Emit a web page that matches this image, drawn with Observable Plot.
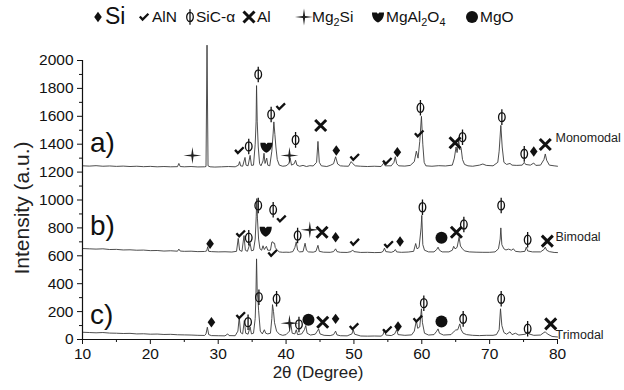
<!DOCTYPE html>
<html>
<head>
<meta charset="utf-8">
<script src="https://cdn.jsdelivr.net/npm/d3@7"></script>
<script src="https://cdn.jsdelivr.net/npm/@observablehq/plot@0.6"></script>
<style>
  body { margin: 0; background: #fff; font-family: "Liberation Sans", Arial, sans-serif; }
  #wrap { position: relative; width: 624px; height: 390px; }
  #legend { position: relative; width: 624px; height: 40px; color: #111; }
  #legend span { position: absolute; white-space: nowrap; }
  #legend svg { position: absolute; overflow: visible; }
  #ylabel { position: absolute; left: 22px; top: 208px; transform: translate(-50%, -50%) rotate(-90deg);
            white-space: nowrap; font-size: 21px; color: #222; }
  sub { font-size: 70%; vertical-align: -0.35em; line-height: 0; }
</style>
</head>
<body>
<div id="wrap">
  <div id="legend"></div>
  <div id="chart"></div>
  <div id="ylabel">Intensity (a.u.)</div>
</div>
<script>
// ---------- data: XRD traces [2θ (deg), intensity (a.u.)] ----------
const traceA = [[10,1245],[11,1243],[12,1246],[13,1242],[14,1244],[15,1241],[16,1243],[17,1240],[18,1242],[19,1239],[20,1241],[21,1238],[22,1240],[23,1238],[24,1239],[24.2,1262],[24.4,1240],[25,1238],[26,1240],[27,1237],[28,1238],[28.2,1240],[28.35,2110],[28.5,1245],[28.8,1238],[29.5,1236],[30.5,1238],[31.5,1240],[32.5,1238],[33.0,1250],[33.15,1275],[33.3,1245],[33.6,1242],[33.95,1305],[34.1,1250],[34.4,1245],[34.7,1320],[34.9,1248],[35.2,1250],[35.45,1400],[35.58,1560],[35.65,1820],[35.75,1560],[35.9,1380],[36.1,1260],[36.3,1245],[36.6,1280],[36.75,1335],[36.9,1262],[37.15,1300],[37.3,1250],[37.6,1245],[37.9,1350],[38.1,1480],[38.2,1560],[38.35,1470],[38.5,1380],[38.7,1290],[39.0,1250],[39.5,1242],[40.0,1245],[40.4,1260],[40.6,1300],[40.8,1250],[41.2,1260],[41.4,1285],[41.6,1250],[42,1242],[42.5,1248],[43,1240],[43.5,1246],[44.0,1244],[44.5,1270],[44.7,1420],[44.9,1270],[45.2,1245],[46,1240],[46.5,1248],[47.0,1260],[47.3,1310],[47.6,1258],[48,1245],[48.5,1243],[49.2,1242],[49.6,1275],[49.8,1262],[50.2,1245],[51,1242],[52,1240],[53,1242],[54,1240],[54.4,1265],[54.6,1245],[55.5,1245],[55.9,1270],[56.1,1310],[56.3,1260],[56.6,1245],[57.5,1243],[58.3,1248],[58.9,1275],[59.2,1350],[59.45,1300],[59.7,1420],[59.95,1600],[60.15,1400],[60.35,1270],[60.6,1245],[61.5,1242],[62.5,1246],[63.5,1244],[64.5,1250],[64.8,1300],[65.05,1380],[65.2,1340],[65.45,1425],[65.6,1360],[65.8,1370],[66.0,1290],[66.3,1255],[66.8,1245],[67.5,1242],[68.5,1250],[69,1258],[69.5,1248],[70.5,1245],[71.2,1270],[71.4,1350],[71.65,1535],[71.85,1380],[72.1,1270],[72.5,1255],[73.0,1262],[73.3,1250],[74,1248],[74.8,1250],[75.1,1270],[75.3,1255],[76,1250],[76.5,1265],[76.8,1248],[77.5,1250],[78.0,1290],[78.2,1330],[78.4,1285],[78.8,1250],[79.5,1245],[80,1242]];
const traceB = [[10,652],[11,650],[12,648],[13,650],[14,645],[15,646],[16,642],[17,643],[18,640],[19,641],[20,637],[21,638],[22,634],[23,636],[24,633],[24.2,648],[24.4,634],[25,632],[26,633],[27,630],[28,631],[28.3,635],[28.45,665],[28.6,632],[29,630],[30,628],[31,629],[32,627],[32.7,632],[32.95,725],[33.15,640],[33.5,632],[33.8,745],[34.0,640],[34.3,632],[34.7,690],[34.9,636],[35.2,640],[35.45,720],[35.6,880],[35.68,1010],[35.78,870],[35.95,720],[36.15,650],[36.4,640],[36.6,672],[36.8,645],[37.1,668],[37.3,640],[37.7,640],[37.9,698],[38.05,700],[38.15,690],[38.3,690],[38.4,660],[38.7,640],[39.0,628],[39.5,625],[40,626],[40.5,625],[41.0,630],[41.3,660],[41.5,700],[41.7,640],[42,628],[42.5,630],[42.8,690],[43.0,640],[43.3,628],[44,626],[44.4,632],[44.7,675],[44.9,632],[45.5,626],[46.5,625],[47.0,630],[47.3,650],[47.5,630],[48,625],[49,624],[49.6,630],[49.8,642],[50.0,630],[51,624],[52,625],[53,623],[54,624],[54.3,632],[54.5,655],[54.7,630],[55.5,625],[55.9,632],[56.1,645],[56.3,628],[57,625],[58,627],[58.8,632],[59.1,688],[59.3,650],[59.6,660],[59.9,800],[60.0,890],[60.15,680],[60.4,640],[61,628],[61.8,628],[62.2,645],[62.4,662],[62.6,640],[63,628],[64,628],[64.5,640],[64.7,668],[64.9,650],[65.2,660],[65.5,733],[65.7,670],[66.0,650],[66.3,635],[67,628],[68,626],[69,625],[70,625],[70.8,628],[71.3,650],[71.55,720],[71.65,800],[71.8,680],[72.1,650],[72.4,642],[72.8,648],[73.2,640],[73.5,650],[73.8,632],[74.5,628],[75.2,632],[75.4,662],[75.6,635],[76.3,628],[77.5,628],[78.0,645],[78.2,662],[78.4,640],[78.8,630],[79.5,624],[80,623]];
const traceC = [[10,52],[11,50],[12,48],[13,50],[14,46],[15,45],[16,43],[17,44],[18,40],[19,41],[20,38],[21,39],[22,36],[23,37],[24,34],[25,33],[26,32],[27,30],[28,29],[28.2,40],[28.4,88],[28.6,35],[29,28],[30,27],[31,26],[31.4,40],[31.6,28],[32.5,27],[32.9,60],[33.1,160],[33.3,50],[33.6,40],[33.85,136],[34.05,45],[34.4,38],[34.7,90],[34.9,40],[35.2,45],[35.45,150],[35.55,300],[35.65,578],[35.75,340],[35.85,290],[35.95,210],[36.2,60],[36.5,40],[36.8,70],[37.0,45],[37.3,40],[37.7,45],[37.9,150],[38.0,250],[38.15,200],[38.3,120],[38.6,60],[39,38],[39.5,30],[40.0,35],[40.5,60],[40.7,112],[40.9,45],[41.3,40],[41.5,70],[41.7,35],[42.3,40],[42.7,70],[42.9,100],[43.1,45],[43.6,32],[44.3,38],[44.6,60],[44.8,76],[45.0,40],[45.6,30],[46.5,28],[47.0,35],[47.3,60],[47.5,33],[48,27],[49,26],[49.7,40],[49.9,69],[50.1,38],[51,25],[52,24],[53,25],[54,24],[54.3,35],[54.5,70],[54.7,32],[55.5,28],[56.0,40],[56.3,70],[56.5,35],[57.5,30],[58.5,33],[58.9,60],[59.2,136],[59.4,80],[59.7,90],[59.95,220],[60.1,120],[60.4,45],[61,32],[61.8,35],[62.2,60],[62.4,76],[62.6,45],[63.2,32],[64.3,35],[64.8,60],[65.0,68],[65.3,70],[65.6,112],[65.8,70],[66.1,45],[66.6,35],[67.5,30],[68.5,28],[69.5,30],[70.5,30],[71.0,35],[71.4,70],[71.6,220],[71.8,100],[72.1,50],[72.5,38],[73.0,55],[73.3,35],[73.8,45],[74.3,32],[75.3,38],[75.6,60],[75.8,40],[76.5,30],[77.5,32],[78.0,50],[78.2,55],[78.5,40],[79.2,22],[80,18]];

// ---------- phase markers [2θ, intensity] ----------
const siMarks     = [[47.4,1355],[56.4,1343],[76.5,1348],[28.8,686],[47.3,733],[56.8,702],[29.0,124],[47.3,148],[56.5,93]];
const alnMarks    = [[33.1,1355],[39.2,1670],[50.1,1307],[54.9,1278],[59.6,1475],[33.3,758],[39.3,865],[38.0,619],[50.1,698],[55.1,681],[33.3,172],[50.0,93],[54.9,70],[59.4,148]];
const sicMarks    = [[34.5,1384],[35.9,1900],[37.8,1613],[41.4,1431],[59.8,1661],[66.0,1450],[71.8,1594],[75.1,1331],[34.5,729],[35.9,961],[38.1,930],[41.7,745],[60.1,948],[66.2,824],[71.7,961],[75.6,715],[34.4,124],[36.0,303],[38.6,292],[41.9,108],[60.3,260],[66.1,148],[71.7,292],[75.6,77]];
const alMarks     = [[45.1,1534],[64.9,1410],[78.2,1398],[45.3,769],[65.1,769],[78.5,705],[45.4,124],[79.0,112]];
const mg2siMarks  = [[26.2,1319],[40.5,1319],[43.5,786],[40.5,117]];
const spinelMarks = [[37.1,1378],[37.0,776]];
const mgoMarks    = [[62.9,729],[43.3,141],[62.9,129]];

const sampleTags  = ["a)", "b)", "c)"];
const sampleNames = ["Monomodal", "Bimodal", "Trimodal"];
const xTicks = [10, 20, 30, 40, 50, 60, 70, 80];
const yTicks = [0, 200, 400, 600, 800, 1000, 1200, 1400, 1600, 1800, 2000];

// ---------- custom symbols ----------
const K = 0.5523;
function ellipse(c, rx, ry) {
  c.moveTo(rx, 0);
  c.bezierCurveTo(rx, ry*K, rx*K, ry, 0, ry);
  c.bezierCurveTo(-rx*K, ry, -rx, ry*K, -rx, 0);
  c.bezierCurveTo(-rx, -ry*K, -rx*K, -ry, 0, -ry);
  c.bezierCurveTo(rx*K, -ry, rx, -ry*K, rx, 0);
  c.closePath();
}
const symDiamond = {draw(c){ c.moveTo(0,-5.2); c.lineTo(3.8,0); c.lineTo(0,5.2); c.lineTo(-3.8,0); c.closePath(); }};
const symCheck   = {draw(c){ c.moveTo(-4.2,-0.6); c.lineTo(-1.4,2.6); c.lineTo(4.4,-3.2); }};
const symPhi     = {draw(c){ ellipse(c, 3.3, 4.6); c.moveTo(0,-7.8); c.lineTo(0,7.8); }};
const symTimes   = {draw(c){ c.moveTo(-5.5,-5.5); c.lineTo(5.5,5.5); c.moveTo(-5.5,5.5); c.lineTo(5.5,-5.5); }};
const symStar    = {draw(c){ const R=9, V=8.5, w=1.1; c.moveTo(0,-V); c.lineTo(w,-w); c.lineTo(R,0); c.lineTo(w,w); c.lineTo(0,V); c.lineTo(-w,w); c.lineTo(-R,0); c.lineTo(-w,-w); c.closePath(); }};
const symShield  = {draw(c){ c.moveTo(-6,-4.5); c.lineTo(-1.2,-4.5); c.lineTo(0,-3); c.lineTo(1.2,-4.5); c.lineTo(6,-4.5); c.bezierCurveTo(6.2,1,3,4.5,0,5.5); c.bezierCurveTo(-3,4.5,-6.2,1,-6,-4.5); c.closePath(); }};
const symDot     = {draw(c){ c.moveTo(6,0); c.arc(0,0,6,0,2*Math.PI); c.closePath(); }};

const phases = [
  {sym: symDiamond, label: "Si",      fill: "#111", stroke: "none", sw: 0},
  {sym: symCheck,   label: "AlN",     fill: "none", stroke: "#111", sw: 2.3},
  {sym: symPhi,     label: "SiC-α",   fill: "none", stroke: "#111", sw: 1.3},
  {sym: symTimes,   label: "Al",      fill: "none", stroke: "#111", sw: 3},
  {sym: symStar,    label: "Mg<sub>2</sub>Si", fill: "#222", stroke: "none", sw: 0},
  {sym: symShield,  label: "MgAl<sub>2</sub>O<sub>4</sub>", fill: "#111", stroke: "none", sw: 0},
  {sym: symDot,     label: "MgO",     fill: "#111", stroke: "none", sw: 0}
];
const markSets = [siMarks, alnMarks, sicMarks, alMarks, mg2siMarks, spinelMarks, mgoMarks];

// ---------- legend (HTML) ----------
const legendLayout = [
  {sx: 98,  tx: 105, fs: 23},
  {sx: 144, tx: 152, fs: 15.5},
  {sx: 190, tx: 196, fs: 15.5},
  {sx: 249, tx: 257, fs: 15.5},
  {sx: 304, tx: 312, fs: 15.5},
  {sx: 378, tx: 386, fs: 15.5},
  {sx: 472, tx: 480, fs: 15.5}
];
const legend = document.getElementById("legend");
phases.forEach((p, i) => {
  const L = legendLayout[i];
  const path = d3.symbol().type(p.sym)();
  const svg = d3.create("svg").attr("width", 1).attr("height", 1)
    .style("left", L.sx + "px").style("top", "17px");
  svg.append("path").attr("d", path).attr("fill", p.fill).attr("stroke", p.stroke)
    .attr("stroke-width", p.sw);
  legend.appendChild(svg.node());
  const s = document.createElement("span");
  s.innerHTML = p.label;
  s.style.left = L.tx + "px";
  s.style.fontSize = L.fs + "px";
  s.style.top = (L.fs > 18 ? 3 : 8) + "px";
  legend.appendChild(s);
});

// ---------- chart ----------
const rows = [];
[traceA, traceB, traceC].forEach((t, i) => t.forEach(([x, y]) => rows.push({theta: x, intensity: y, sample: sampleNames[i]})));

const markerMarks = phases.map((p, i) => Plot.dot(markSets[i], {
  x: d => d[0], y: d => d[1], symbol: p.sym, r: 4,
  fill: p.fill, stroke: p.stroke, strokeWidth: p.sw
}));

const chart = Plot.plot({
  width: 624, height: 350,
  marginLeft: 82, marginRight: 67, marginTop: 20, marginBottom: 51,
  style: {fontFamily: "'Liberation Sans', Arial, sans-serif", color: "#111", background: "#fff", overflow: "visible"},
  x: {domain: [10, 80]},
  y: {domain: [0, 2000]},
  marks: [
    Plot.line(rows, {x: "theta", y: "intensity", z: "sample", stroke: "#3a3a3a", strokeWidth: 0.9}),
    ...markerMarks,
    Plot.text(sampleTags, {x: 11.1, y: (d, i) => [1405, 810, 172][i], text: d => d, textAnchor: "start", fontSize: 28, fill: "#111"}),
    Plot.text(sampleNames, {x: 79.7, y: (d, i) => [1448, 734, 29][i], text: d => d, textAnchor: "start", fontSize: 12.5, fill: "#222"}),
    Plot.axisY({ticks: yTicks, tickSize: 5, tickPadding: 4, fontSize: 15.5, tickFormat: d => String(d), label: null}),
    Plot.axisY({ticks: d3.range(100, 2000, 200), tickSize: 3, text: null, label: null}),
    Plot.axisX({ticks: xTicks, tickSize: 5, tickPadding: 3, fontSize: 15.5, tickFormat: d => String(d), label: null}),
    Plot.axisX({ticks: d3.range(15, 80, 10), tickSize: 3, text: null, label: null}),
    Plot.ruleX([10], {y1: 0, y2: 2000, stroke: "#111", strokeWidth: 1.2}),
    Plot.ruleY([0], {x1: 10, x2: 80, stroke: "#111", strokeWidth: 1.2}),
    Plot.text(["2θ (Degree)"], {frameAnchor: "bottom", dy: 38, dx: -2, fontSize: 17, fill: "#222"})
  ]
});
document.getElementById("chart").appendChild(chart);
</script>
</body>
</html>
